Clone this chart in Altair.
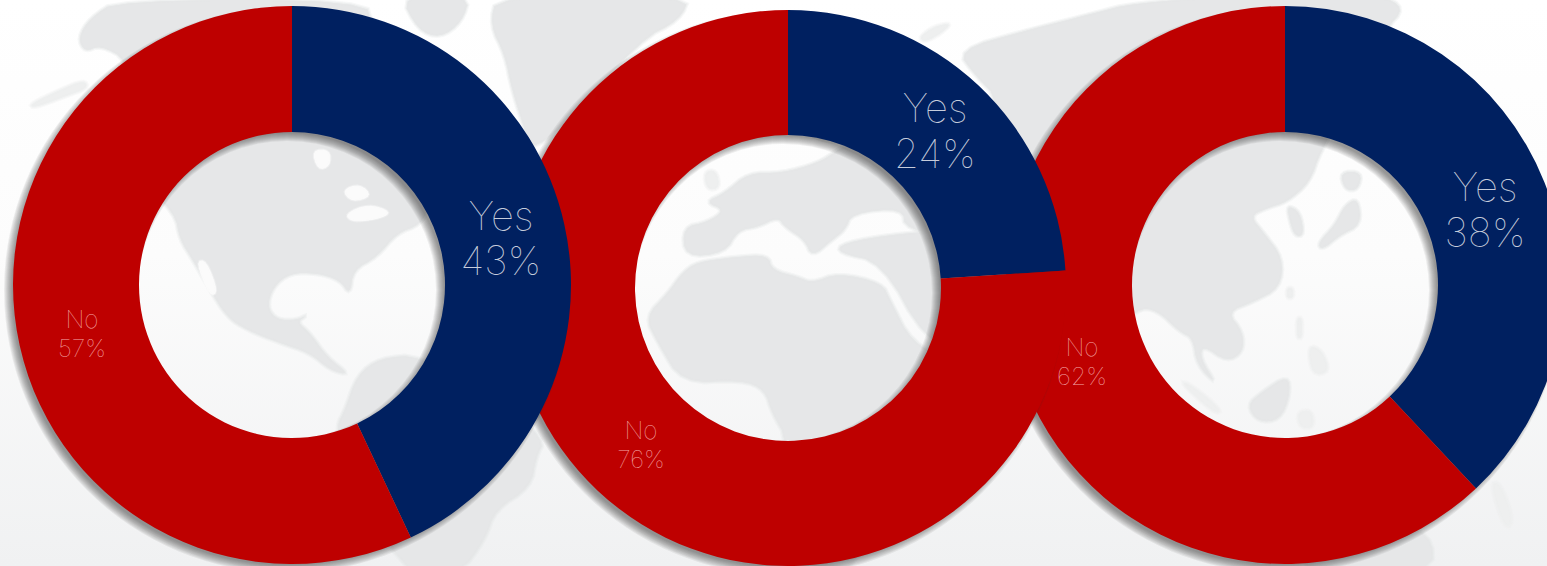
import altair as alt

W, H = 1547, 566

# survey results per region
answers = ["Yes", "No"]
america = [43, 57]
emea = [24, 76]
asia = [38, 62]

NAVY = "#002060"
RED = "#be0000"
LAND = "#e6e7e8"
LAND_FAINT = "#eeefef"
FONT = "Inter"

# simplified land outlines in screen-map units
north_america = [(118,0),(365,0),(372,25),(400,40),(420,90),(440,150),(430,205),(420,225),(397,233),(377,257),
                 (353,270),(350,295),(340,280),(317,273),(290,273),(273,287),(267,307),(277,320),(297,320),(307,315),
                 (297,322),(310,333),(327,357),(350,375),(330,370),(310,353),(280,343),(247,330),(227,317),(210,290),
                 (193,260),(180,240),(175,213),(140,180),(122,100),(128,60),(100,45),(85,52),(78,38),(90,18)]
alaska_tail = [(88,88),(66,96),(34,108),(30,104),(60,90),(84,80)]
hudson_bay = [(312,150),(330,150),(330,166),(318,170)]
great_lakes_a = [(342,190),(360,184),(372,196),(352,202)]
great_lakes_b = [(345,214),(368,204),(392,212),(378,219),(352,222)]
baja_gulf = [(196,262),(206,260),(218,292),(210,296)]
south_america = [(357,375),(380,358),(420,355),(500,400),(545,440),(536,457),(531,487),(495,510),(485,540),(459,575),
                 (400,575),(340,440),(337,425),(345,410)]
greenland = [(497,-5),(690,-5),(680,20),(640,40),(560,130),(530,150),(525,130),(512,90),(505,55),(490,25)]
canada_isles = [(400,-5),(470,-5),(462,22),(440,38),(418,30)]
europe = [(683,227),(708,222),(725,210),(705,202),(725,193),(748,173),(782,173),(818,163),(838,150),(880,125),
          (975,125),(975,240),(905,230),(903,208),(852,213),(845,230),(832,240),(812,257),(805,240),(785,227),
          (778,217),(758,227),(738,230),(725,253),(685,257)]
scandinavia = [(770,120),(810,100),(860,70),(905,80),(880,130),(835,145),(800,130)]
britain = [(704,172),(716,170),(720,188),(707,190)]
middle_east = [(842,243),(902,233),(975,230),(990,300),(975,360),(925,340),(882,262),(838,253)]
africa = [(645,317),(668,293),(682,273),(697,262),(735,257),(768,255),(772,270),(798,277),(812,283),(838,273),
          (882,283),(890,300),(912,343),(950,360),(900,440),(860,575),(790,575),(788,440),(772,413),(765,390),
          (742,380),(682,383),(658,343)]
asia_main = [(957,50),(1028,30),(1095,13),(1133,3),(1250,-5),(1380,-5),(1405,8),(1385,30),(1350,100),(1320,152),
             (1310,182),(1287,202),(1267,208),(1250,216),(1263,232),(1283,258),(1280,288),(1253,302),(1227,312),
             (1243,332),(1243,352),(1227,362),(1203,345),(1200,358),(1217,385),(1197,365),(1193,338),(1180,332),
             (1157,310),(1137,308),(1100,350),(1060,300),(1000,230),(1000,100),(975,75)]
korea = [(1287,205),(1300,212),(1304,235),(1295,236),(1290,222)]
novaya_zemlya = [(919,37),(935,26),(952,23),(940,34),(925,42)]
japan = [(1345,205),(1358,198),(1361,225),(1340,235),(1322,250),(1318,243),(1335,225)]
hokkaido = [(1340,172),(1362,172),(1358,190),(1345,190)]
taiwan = [(1287,288),(1293,288),(1293,298),(1287,298)]
luzon = [(1297,318),(1302,318),(1302,338),(1297,338)]
mindanao = [(1308,345),(1322,350),(1330,372),(1312,375)]
borneo = [(1262,392),(1288,375),(1290,395),(1280,420),(1258,422),(1247,405)]
sumatra = [(1180,382),(1190,384),(1222,410),(1215,414)]
sulawesi = [(1297,412),(1312,410),(1314,428),(1300,428)]
australia = [(1300,530),(1380,520),(1432,533),(1433,575),(1300,575)]
new_zealand = [(1490,484),(1500,482),(1514,520),(1505,530)]

solid_land = [north_america, south_america, greenland, canada_isles, europe, scandinavia,
              middle_east, africa, asia_main, korea, japan, hokkaido, borneo, australia]
faint_land = [alaska_tail, novaya_zemlya, britain, taiwan, luzon, mindanao, sumatra, sulawesi, new_zealand]
water_bodies = [hudson_bay, great_lakes_a, great_lakes_b, baja_gulf]

# (values, centre x, centre y, outer radius, inner radius)
donuts = [
    (asia, 1285, 285, 279, 153),
    (emea, 788, 288, 278, 153),
    (america, 292, 285, 279, 153),
]

# label rows: x and y of the first and second line
big_labels = [(1485, 189, 235), (935, 110, 156), (501, 218, 263)]
small_labels = [(1082, 349, 378), (641, 432, 461), (82, 321, 350)]


def rounded(poly, passes=2):
    """Corner-cut an outline so coasts read as curves rather than facets."""
    pts = list(poly)
    for _ in range(passes):
        out = []
        for i, (x0, y0) in enumerate(pts):
            x1, y1 = pts[(i + 1) % len(pts)]
            out.append([0.75 * x0 + 0.25 * x1, 0.75 * y0 + 0.25 * y1])
            out.append([0.25 * x0 + 0.75 * x1, 0.25 * y0 + 0.75 * y1])
        pts = out
    return pts


def features(polys):
    return [{"type": "Feature", "properties": {},
             "geometry": {"type": "Polygon", "coordinates": [rounded(poly) + [rounded(poly)[0]]]}}
            for poly in polys]


def land_layers(polys, colour, edge=5):
    # a wide pale stroke under a narrower one softens the coastline
    out = []
    for width, alpha in ((edge, 0.3), (edge / 2, 0.5)):
        out.append(
            alt.Chart(alt.Data(values=features(polys))).mark_geoshape(
                fill=colour, stroke=colour, strokeWidth=width, strokeOpacity=alpha
            ).project(type="identity", scale=1, translate=[0, 0])
        )
    return out


backdrop = alt.Chart(alt.Data(values=[{}])).mark_rect(
    color=alt.Gradient(
        gradient="linear", x1=0, x2=0, y1=0, y2=1,
        stops=[alt.GradientStop(color="#ffffff", offset=0),
               alt.GradientStop(color="#fcfcfc", offset=0.45),
               alt.GradientStop(color="#f0f1f2", offset=1)],
    )
).encode(x=alt.value(0), x2=alt.value(W), y=alt.value(0), y2=alt.value(H))

layers = [backdrop, *land_layers(solid_land, LAND), *land_layers(faint_land, LAND_FAINT),
          *land_layers(water_bodies, "#fbfbfb", 3)]

theta_scale = alt.Scale(domain=[0, 100], range=[0, 6.283185307])
colour_scale = alt.Scale(domain=answers, range=[NAVY, RED])

for values, cx, cy, outer, inner in donuts:
    # soft cast shadow: stacked translucent rings, offset down and to the left
    for spread in range(4, -5, -1):
        layers.append(
            alt.Chart(alt.Data(values=[{}])).mark_arc(
                theta=0, theta2=6.283185307, radius=outer + spread, radius2=inner - spread,
                color="#303030", opacity=0.075,
            ).encode(x=alt.value(cx - 5), y=alt.value(cy + 5))
        )
    table = alt.Data(values=[{"answer": a, "share": v} for a, v in zip(answers, values)])
    layers.append(
        alt.Chart(table).mark_arc(radius=outer, radius2=inner).encode(
            theta=alt.Theta("share:Q", scale=theta_scale, stack=True),
            color=alt.Color("answer:N", scale=colour_scale, legend=None),
            order=alt.Order("answer:N", sort="descending"),
            x=alt.value(cx), y=alt.value(cy),
        )
    )


def label(text, x, y, size, colour):
    return alt.Chart(alt.Data(values=[{"t": text}])).mark_text(
        font=FONT, fontWeight=100, fontSize=size, color=colour, align="center", baseline="middle"
    ).encode(text="t:N", x=alt.value(x), y=alt.value(y))


for (values, *_), (x, y1, y2), (sx, sy1, sy2) in zip(donuts, big_labels, small_labels):
    layers.append(label(answers[0], x, y1, 40, "#c6ccdb"))
    layers.append(label(f"{values[0]}%", x, y2, 40, "#c6ccdb"))
    layers.append(label(answers[1], sx, sy1, 24.5, "#f4a8a8"))
    layers.append(label(f"{values[1]}%", sx, sy2, 24.5, "#f4a8a8"))

chart = alt.layer(*layers).properties(
    width=W, height=H, padding=0, autosize=alt.AutoSizeParams(type="none"),
    background="white",
).resolve_scale(theta="shared", color="shared").configure_view(stroke=None)

chart.save("out.html", embed_options={"renderer": "svg", "actions": False})
